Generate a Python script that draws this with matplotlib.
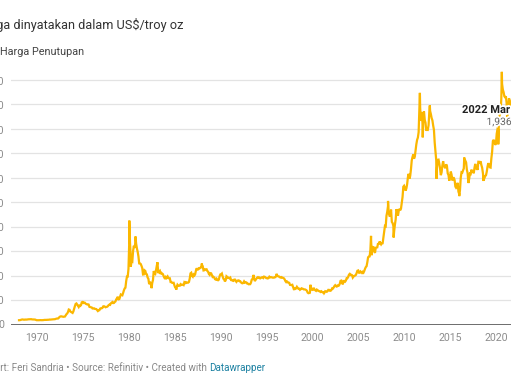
import matplotlib.pyplot as plt
import matplotlib.patheffects as pe
import numpy as np
from matplotlib.ticker import FuncFormatter

plt.rcParams['font.family'] = ['Roboto', 'DejaVu Sans']

# ===== data: monthly gold closing price, US$/troy oz (Jan 1968 - Mar 2022) =====
gold_1968_1977 = [
    35.1, 35.2, 37.0, 38.0, 41.0, 41.1, 39.5, 39.2, 40.7, 39.8, 40.0, 41.1,
    42.3, 42.5, 43.2, 43.4, 43.6, 41.6, 41.8, 41.1, 40.3, 40.4, 37.4, 35.2,
    34.9, 35.0, 35.1, 35.6, 35.9, 35.4, 35.3, 35.4, 36.2, 37.5, 37.4, 37.4,
    37.9, 38.7, 38.9, 39.0, 40.5, 40.1, 41.0, 42.7, 42.0, 42.5, 42.9, 43.5,
    46.0, 48.3, 48.3, 49.0, 54.6, 62.1, 65.7, 67.0, 65.2, 64.2, 62.9, 63.9,
    65.1, 74.2, 84.4, 90.5, 102.0, 122.5, 120.2, 106.7, 103.0, 100.1, 94.6, 106.8,
    129.2, 150.2, 168.4, 172.2, 163.1, 154.1, 143.0, 154.6, 151.8, 158.8, 181.7, 183.9,
    176.3, 179.6, 178.2, 170.1, 167.0, 164.2, 165.2, 163.0, 144.1, 142.8, 142.2, 139.3,
    131.0, 131.0, 132.5, 128.1, 126.9, 126.0, 118.0, 110.0, 115.1, 117.0, 130.2, 133.0,
    132.3, 136.4, 148.2, 149.3, 146.6, 141.0, 143.4, 144.8, 149.4, 158.2, 162.3, 160.5,
]
gold_1978_1987 = [
    173.0, 178.2, 183.7, 175.3, 176.3, 183.7, 188.6, 206.0, 212.4, 227.3, 206.0, 207.8,
    227.3, 245.7, 242.1, 239.2, 257.6, 279.1, 294.7, 300.8, 355.1, 391.7, 391.9, 455.1,
    675.3, 665.3, 553.6, 517.4, 513.8, 600.7, 644.3, 626.5, 674.0, 661.1, 623.5, 594.9,
    557.4, 499.8, 498.6, 494.8, 479.7, 460.8, 409.3, 410.1, 443.1, 437.8, 413.4, 410.1,
    384.3, 374.1, 330.0, 350.5, 333.5, 314.0, 339.0, 364.4, 436.9, 422.0, 415.3, 444.5,
    481.0, 491.0, 420.0, 432.6, 438.8, 412.9, 422.0, 416.2, 411.6, 394.0, 381.7, 388.0,
    370.9, 386.8, 394.2, 381.2, 377.6, 377.9, 347.7, 347.7, 341.1, 340.2, 341.2, 320.2,
    303.0, 298.6, 303.8, 324.6, 316.8, 316.9, 317.3, 329.4, 323.5, 325.3, 325.4, 322.0,
    345.0, 338.9, 345.6, 340.3, 342.6, 342.6, 348.3, 376.2, 418.0, 423.2, 398.3, 391.0,
    408.2, 401.0, 408.9, 438.3, 460.2, 449.6, 450.5, 460.9, 460.0, 465.3, 467.2, 486.9,
]
gold_1988_1997 = [
    477.0, 442.1, 443.6, 451.6, 451.0, 451.9, 437.5, 432.0, 413.4, 406.1, 419.9, 418.6,
    404.0, 388.0, 390.2, 384.3, 371.0, 367.6, 374.9, 365.4, 361.9, 366.9, 394.3, 409.4,
    410.1, 416.8, 393.1, 374.3, 369.1, 352.3, 362.5, 394.7, 389.2, 380.7, 381.9, 378.2,
    383.6, 363.8, 363.3, 358.4, 356.8, 366.7, 367.6, 356.2, 348.7, 358.7, 359.7, 361.1,
    354.3, 353.9, 344.5, 338.6, 337.2, 340.8, 352.7, 342.9, 345.4, 344.4, 335.0, 334.7,
    329.0, 329.3, 330.1, 342.2, 367.1, 371.9, 392.0, 379.3, 355.3, 364.2, 373.8, 383.3,
    387.0, 381.9, 384.1, 377.3, 381.4, 385.6, 385.5, 380.4, 391.6, 389.8, 384.4, 379.3,
    378.6, 376.5, 382.1, 391.0, 385.2, 387.6, 386.2, 383.7, 383.1, 383.1, 386.0, 387.4,
    399.5, 404.8, 396.3, 392.8, 392.0, 385.3, 383.5, 387.5, 383.1, 381.0, 377.9, 369.2,
    354.6, 346.6, 351.8, 344.5, 343.8, 340.8, 324.1, 323.9, 322.8, 324.9, 306.0, 288.7,
]
gold_1998_2007 = [
    289.1, 297.5, 295.9, 308.4, 299.4, 292.3, 292.9, 284.1, 288.9, 296.1, 294.1, 291.5,
    287.1, 287.3, 286.0, 282.4, 276.8, 261.3, 256.1, 256.7, 265.0, 310.7, 293.2, 283.1,
    284.6, 299.9, 286.4, 279.7, 275.3, 285.7, 281.6, 274.5, 273.7, 270.0, 266.0, 271.5,
    265.5, 261.9, 263.0, 260.5, 272.4, 270.2, 267.5, 272.4, 283.4, 283.1, 276.2, 275.9,
    281.7, 295.5, 294.0, 302.7, 314.5, 321.2, 313.3, 310.3, 319.2, 316.6, 319.2, 333.4,
    356.9, 359.0, 340.6, 328.2, 355.7, 356.4, 351.0, 359.8, 378.9, 378.9, 389.9, 407.6,
    414.0, 405.3, 406.7, 403.3, 383.8, 392.4, 398.1, 400.5, 405.3, 420.5, 439.4, 442.1,
    424.0, 423.4, 434.2, 428.9, 421.9, 430.7, 424.5, 437.9, 456.0, 469.9, 476.7, 509.8,
    549.9, 555.0, 557.1, 610.6, 675.4, 596.2, 633.7, 632.6, 598.2, 585.8, 627.8, 629.8,
    631.2, 664.8, 654.9, 679.4, 666.9, 655.5, 665.3, 665.4, 712.7, 754.6, 806.3, 803.2,
]
gold_2008_2017 = [
    889.6, 922.3, 968.4, 909.7, 888.7, 889.5, 939.8, 839.0, 829.9, 806.6, 760.9, 816.1,
    858.7, 943.2, 924.3, 890.2, 928.6, 945.7, 934.2, 949.4, 996.6, 1043.2, 1127.0, 1134.7,
    1117.9, 1095.4, 1113.3, 1148.7, 1205.4, 1232.9, 1192.9, 1215.8, 1270.9, 1342.0, 1369.9, 1390.6,
    1356.4, 1372.7, 1424.0, 1473.8, 1510.4, 1528.7, 1572.8, 1755.8, 1771.9, 1665.2, 1738.9, 1652.3,
    1656.1, 1742.6, 1673.8, 1650.1, 1585.5, 1596.7, 1593.9, 1630.3, 1744.5, 1747.0, 1721.1, 1688.5,
    1670.0, 1627.6, 1592.9, 1487.1, 1414.0, 1343.4, 1285.5, 1347.1, 1348.7, 1316.2, 1275.8, 1221.5,
    1244.3, 1300.0, 1336.1, 1298.5, 1287.5, 1279.1, 1310.6, 1295.1, 1236.6, 1222.5, 1176.3, 1200.6,
    1250.8, 1227.1, 1178.6, 1198.9, 1198.6, 1181.5, 1128.3, 1117.9, 1124.8, 1159.3, 1086.4, 1068.3,
    1097.9, 1199.5, 1245.1, 1242.3, 1260.9, 1276.4, 1336.7, 1340.2, 1326.6, 1266.6, 1238.4, 1157.4,
    1192.1, 1234.2, 1231.1, 1266.9, 1246.0, 1260.3, 1236.8, 1283.0, 1314.1, 1279.5, 1281.9, 1264.5,
]
gold_2018_2022 = [
    1331.3, 1330.7, 1324.7, 1334.8, 1303.5, 1281.6, 1237.7, 1201.7, 1198.4, 1215.4, 1220.7, 1250.4,
    1291.8, 1320.1, 1300.9, 1285.9, 1283.7, 1359.0, 1412.9, 1500.4, 1510.6, 1494.8, 1470.0, 1479.1,
    1560.7, 1597.1, 1591.9, 1683.2, 1715.9, 1732.2, 1846.5, 1968.6, 1921.9, 1900.3, 1866.3, 1858.4,
    1867.0, 1808.2, 1718.2, 1760.0, 1850.3, 1834.6, 1807.8, 1785.3, 1775.1, 1776.9, 1821.6, 1790.4,
    1816.0, 1856.3, 1948.0,
]

# daily highs / lows visible as spikes in the chart (decimal year, price)
spike_dates = [1980.05, 1980.21, 1980.72, 1982.47, 1983.12, 1985.16, 1987.95, 1993.58,
               1996.09, 1999.64, 1999.76, 2001.25, 2006.36, 2006.45, 2008.21, 2008.82,
               2011.68, 2011.99, 2012.76, 2013.49, 2015.96, 2016.51, 2018.62, 2020.21,
               2020.60, 2021.18, 2022.18, 2022.25]
spike_values = [850, 474, 720, 297, 509, 285, 499, 406,
                415, 252, 325, 256, 725, 567, 1011, 712,
                1895, 1531, 1792, 1192, 1050, 1366, 1174, 1474,
                2067, 1677, 2052, 1936]

y_ticks = list(range(0, 2001, 200))
x_ticks = list(range(1970, 2021, 5))

# ===== build series =====
monthly = np.array(gold_1968_1977 + gold_1978_1987 + gold_1988_1997 +
                   gold_1998_2007 + gold_2008_2017 + gold_2018_2022)
monthly_dates = 1968 + (np.arange(len(monthly)) + 0.5) / 12
dates = np.concatenate([monthly_dates, spike_dates])
prices = np.concatenate([monthly, spike_values])
order = np.argsort(dates)
dates, prices = dates[order], prices[order]

W, H = 511, 384
fig = plt.figure(figsize=(W / 100, H / 100), dpi=100)
ax = fig.add_axes([11 / W, 59.5 / H, 506 / W, 256.7 / H])

ax.plot(dates, prices, color='#fbb700', linewidth=1.6, solid_joinstyle='miter')
ax.set_xlim(1967.17, 2022.25)
ax.set_ylim(0, 2100)

ax.set_yticks(y_ticks)
ax.set_xticks(x_ticks)
ax.yaxis.set_major_formatter(FuncFormatter(lambda v, _: f"{int(v):,}"))
ax.tick_params(axis='both', length=0, labelsize=7.6, labelcolor='#8c8c8c')
ax.tick_params(axis='y', pad=5)
ax.tick_params(axis='x', pad=6)
ax.grid(axis='y', color='#e3e3e3', linewidth=0.9)
ax.set_axisbelow(True)
for s in ax.spines.values():
    s.set_visible(False)
ax.axhline(0, color='#555555', linewidth=1.2, zorder=3)

# ---- titles (left part cut off like the screenshot) ----
fig.text(183 / W, 1 - 25 / H, "Harga dinyatakan dalam US$/troy oz", ha='right', va='center',
         fontsize=9.2, color='#333333')
fig.text(0.5 / W, 1 - 52 / H, "Harga Penutupan", ha='left', va='center',
         fontsize=7.8, color='#444444')

# ---- end label ----
halo = [pe.withStroke(linewidth=2.5, foreground='white')]
fig.text(462 / W, 1 - 110 / H, "2022 Mar", ha='left', va='center', fontsize=8,
         fontweight='bold', color='#222222', path_effects=halo)
fig.text(486.5 / W, 1 - 122 / H, "1,936", ha='left', va='center', fontsize=7.4,
         color='#666666', path_effects=halo)

# ---- footer ----
fy = 1 - 371 / H
link = fig.text(265 / W, fy, "Datawrapper", ha='right', va='baseline', fontsize=7.1,
                color='#1d81a2')
fig.canvas.draw()
bb = link.get_window_extent()
fig.text(bb.x0 / W, fy, "Chart: Feri Sandria • Source: Refinitiv • Created with ",
         ha='right', va='baseline', fontsize=7.1, color='#888888')

fig.savefig("out.png", dpi=100)
